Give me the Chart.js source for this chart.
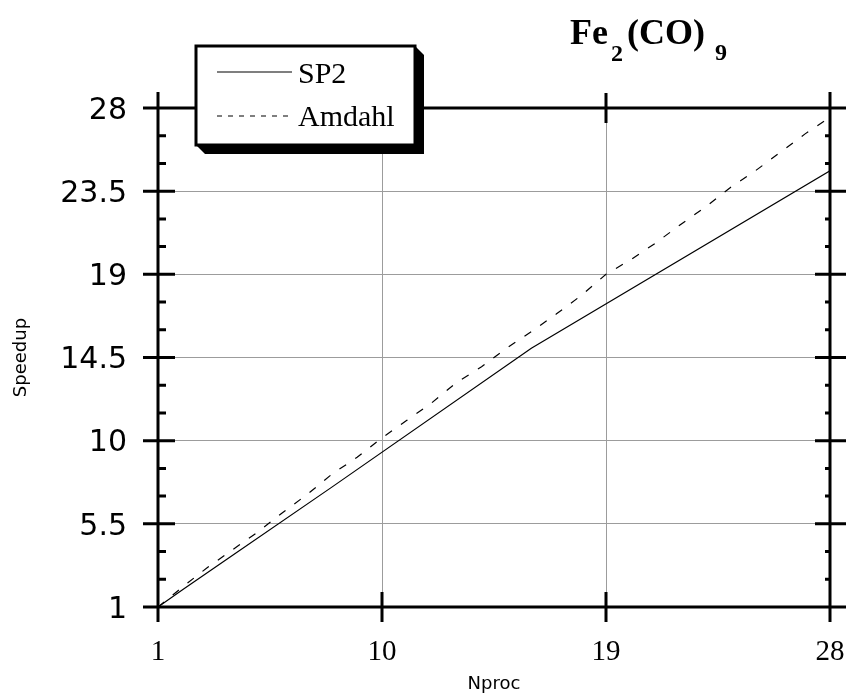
<!DOCTYPE html>
<html>
<head>
<meta charset="utf-8">
<title>Fe2(CO)9 speedup</title>
<script src="https://cdn.jsdelivr.net/npm/chart.js@4/dist/chart.umd.min.js"></script>
<style>
  html, body { margin: 0; padding: 0; background: #fff; }
  #wrap { width: 846px; height: 696px; }
</style>
</head>
<body>
<div id="wrap"><canvas id="speedup-chart" width="846" height="696"></canvas></div>
<script>
// tick values on both axes
const xTicks = [1, 10, 19, 28];
const yTicks = [1, 5.5, 10, 14.5, 19, 23.5, 28];

// measured SP2 speedup
const sp2Procs = [1, 2, 4, 8, 16, 28];
const sp2Speedup = [1, 1.95, 3.8, 7.5, 15.0, 24.6];

// Amdahl prediction, one value per processor count
const amdahlProcs = [1, 2, 3, 4, 5, 6, 7, 8, 9, 10, 11, 12, 13, 14, 15, 16, 17, 18, 19, 20, 21, 22, 23, 24, 25, 26, 27, 28];
const amdahlSpeedup = [1, 2.1, 3.15, 4.1, 5.05, 6.1, 7.1, 8.2, 9.1, 10.15, 11.1, 12.05, 13.15, 14.0, 15.0, 15.9, 16.85, 17.85, 19.0, 19.8, 20.7, 21.7, 22.65, 23.7, 24.6, 25.6, 26.6, 27.5];

const seriesNames = ["SP2", "Amdahl"];

const toPoints = (xs, ys) => xs.map((v, i) => ({ x: v, y: ys[i] }));

// heavy frame, crossing major ticks and small minor ticks on y
const framePlugin = {
  id: "frame",
  afterDatasetsDraw(chart) {
    const { ctx, chartArea: a, scales } = chart;
    const sx = scales.x, sy = scales.y;
    ctx.save();
    ctx.strokeStyle = "#000";
    ctx.lineWidth = 3;
    ctx.beginPath();
    ctx.moveTo(a.left - 15, a.top); ctx.lineTo(chart.width, a.top);
    ctx.moveTo(a.left - 15, a.bottom); ctx.lineTo(chart.width, a.bottom);
    ctx.moveTo(a.left, a.top - 16); ctx.lineTo(a.left, a.bottom + 15);
    ctx.moveTo(a.right, a.top - 16); ctx.lineTo(a.right, a.bottom + 15);

    yTicks.forEach((v) => {
      const py = sy.getPixelForValue(v);
      ctx.moveTo(a.left - 15, py); ctx.lineTo(a.left + 17, py);
      ctx.moveTo(a.right - 15, py); ctx.lineTo(a.right + 16, py);
    });
    xTicks.forEach((v) => {
      const px = sx.getPixelForValue(v);
      ctx.moveTo(px, a.bottom - 15); ctx.lineTo(px, a.bottom + 15);
      ctx.moveTo(px, a.top - 15); ctx.lineTo(px, a.top + 15);
    });
    for (let i = 0; i < yTicks.length - 1; i++) {
      const step = (yTicks[i + 1] - yTicks[i]) / 3;
      for (let k = 1; k < 3; k++) {
        const py = sy.getPixelForValue(yTicks[i] + k * step);
        ctx.moveTo(a.left, py); ctx.lineTo(a.left + 8, py);
        ctx.moveTo(a.right - 5, py); ctx.lineTo(a.right, py);
      }
    }
    ctx.stroke();
    ctx.restore();
  },
  afterDraw(chart) {
    const { ctx } = chart;
    ctx.save();

    // legend box with drop shadow
    const L = 196, T = 46, R = 415, B = 145, d = 9;
    ctx.fillStyle = "#000";
    ctx.beginPath();
    ctx.moveTo(R, T); ctx.lineTo(R + d, T + d); ctx.lineTo(R + d, B + d);
    ctx.lineTo(L + d, B + d); ctx.lineTo(L, B); ctx.closePath();
    ctx.fill();
    ctx.fillStyle = "#fff";
    ctx.fillRect(L, T, R - L, B - T);
    ctx.lineWidth = 3;
    ctx.strokeStyle = "#000";
    ctx.strokeRect(L, T, R - L, B - T);

    ctx.lineWidth = 1.2;
    ctx.beginPath();
    ctx.moveTo(217, 72); ctx.lineTo(292, 72);
    ctx.stroke();
    ctx.setLineDash([5, 6]);
    ctx.beginPath();
    ctx.moveTo(217, 116); ctx.lineTo(290, 116);
    ctx.stroke();
    ctx.setLineDash([]);

    ctx.fillStyle = "#000";
    ctx.font = "30px 'Liberation Serif'";
    ctx.textBaseline = "alphabetic";
    ctx.textAlign = "left";
    ctx.fillText(seriesNames[0], 298, 83);
    ctx.fillText(seriesNames[1], 298, 126);

    // formula title with subscripts
    let x = 570;
    const main = "bold 36px 'Liberation Serif'";
    const sub = "bold 24px 'Liberation Serif'";
    const parts = [["Fe", main, 44, 3], ["2", sub, 61, 4], ["(CO)", main, 44, 10], ["9", sub, 60, 0]];
    parts.forEach(([t, f, base, gap]) => {
      ctx.font = f;
      ctx.fillText(t, x, base);
      x += ctx.measureText(t).width + gap;
    });
    ctx.restore();
  },
};

const gridColor = (c) => (c.index === 0 || c.index === c.chart.scales[c.scale.id].ticks.length - 1 ? "rgba(0,0,0,0)" : "#9c9c9c");

const ctx = document.getElementById("speedup-chart").getContext("2d");

new Chart(ctx, {
  type: "line",
  data: {
    datasets: [
      {
        label: seriesNames[0],
        data: toPoints(sp2Procs, sp2Speedup),
        borderColor: "#000",
        borderWidth: 1.2,
        pointRadius: 0,
        tension: 0,
      },
      {
        label: seriesNames[1],
        data: toPoints(amdahlProcs, amdahlSpeedup),
        borderColor: "#000",
        borderWidth: 1.2,
        borderDash: [8, 11],
        pointRadius: 0,
        tension: 0,
      },
    ],
  },
  options: {
    responsive: false,
    animation: false,
    devicePixelRatio: 1,
    layout: { padding: { top: 108, right: 16, left: 0, bottom: 0 } },
    plugins: {
      legend: { display: false },
      tooltip: { enabled: false },
    },
    scales: {
      x: {
        type: "linear",
        min: 1,
        max: 28,
        afterBuildTicks: (s) => { s.ticks = xTicks.map((v) => ({ value: v })); },
        afterFit: (s) => { s.height = 89; s.paddingLeft = 0; s.paddingRight = 0; },
        border: { display: false },
        grid: { color: gridColor, lineWidth: 1, drawTicks: false },
        ticks: {
          color: "#000",
          padding: 28,
          maxRotation: 0,
          font: { family: "'Liberation Serif'", size: 29 },
          callback: (v) => String(v),
        },
        title: {
          display: true,
          text: "Nproc",
          color: "#000",
          padding: { top: 0, bottom: 1 },
          font: { family: "'DejaVu Sans'", size: 18 },
        },
      },
      y: {
        type: "linear",
        min: 1,
        max: 28,
        afterBuildTicks: (s) => { s.ticks = yTicks.map((v) => ({ value: v })); },
        afterFit: (s) => { s.width = 158; s.paddingTop = 0; s.paddingBottom = 0; },
        border: { display: false },
        grid: { color: gridColor, lineWidth: 1, drawTicks: false },
        ticks: {
          color: "#000",
          padding: 31,
          labelOffset: 3,
          font: { family: "'DejaVu Sans'", size: 30 },
          callback: (v) => String(v),
        },
        title: {
          display: true,
          text: "Speedup",
          color: "#000",
          padding: { top: 11, bottom: 0 },
          font: { family: "'DejaVu Sans'", size: 18 },
        },
      },
    },
  },
  plugins: [framePlugin],
});
</script>
</body>
</html>
